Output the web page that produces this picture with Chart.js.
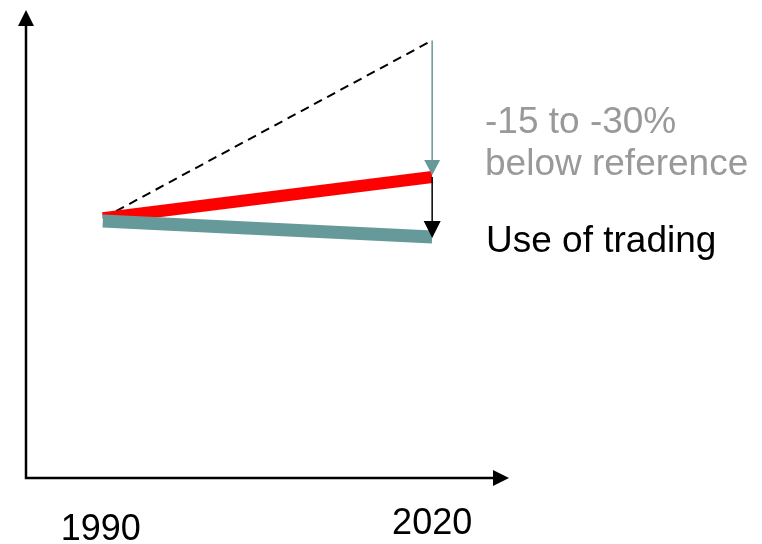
<!DOCTYPE html>
<html>
<head>
<meta charset="utf-8">
<script src="https://cdn.jsdelivr.net/npm/chart.js@4/dist/chart.umd.min.js"></script>
<style>
  html, body { margin: 0; padding: 0; background: #fff; }
  #wrap { width: 762px; height: 544px; }
</style>
</head>
<body>
<div id="wrap"><canvas id="trading"></canvas></div>
<script>
// chart values
var years = [1990, 2020];
var yearLabels = ['1990', '2020'];
var reference = [55.5, 93.5];
var target = [55.5, 64.3];
var withTrading = [54.9, 51.5];
var notes = ['-15 to -30%', 'below reference'];
var tradingNote = 'Use of trading';

var teal = '#669999';

function points(values) {
  return years.map(function (y, i) { return { x: y, y: values[i] }; });
}

function arrowHead(ctx, x, tipY, w, h, color) {
  ctx.fillStyle = color;
  ctx.beginPath();
  ctx.moveTo(x, tipY);
  ctx.lineTo(x - w / 2, tipY - h);
  ctx.lineTo(x + w / 2, tipY - h);
  ctx.closePath();
  ctx.fill();
}

var decorations = {
  id: 'decorations',
  afterDatasetsDraw: function (chart) {
    var ctx = chart.ctx;
    var area = chart.chartArea;
    var xs = chart.scales.x;
    var ys = chart.scales.y;

    // axes with arrow heads
    ctx.save();
    ctx.strokeStyle = '#000';
    ctx.lineWidth = 2.5;
    ctx.beginPath();
    ctx.moveTo(area.left, area.top + 12);
    ctx.lineTo(area.left, area.bottom);
    ctx.lineTo(area.right - 12, area.bottom);
    ctx.stroke();
    ctx.fillStyle = '#000';
    ctx.beginPath();
    ctx.moveTo(area.left, area.top);
    ctx.lineTo(area.left - 8, area.top + 16);
    ctx.lineTo(area.left + 8, area.top + 16);
    ctx.closePath();
    ctx.fill();
    ctx.beginPath();
    ctx.moveTo(area.right, area.bottom);
    ctx.lineTo(area.right - 16, area.bottom - 8);
    ctx.lineTo(area.right - 16, area.bottom + 8);
    ctx.closePath();
    ctx.fill();

    // arrows at 2020
    var x = xs.getPixelForValue(years[1]);
    var yRef = ys.getPixelForValue(reference[1]);
    var yTarget = ys.getPixelForValue(target[1]);
    var yTrade = ys.getPixelForValue(withTrading[1]);
    ctx.strokeStyle = teal;
    ctx.lineWidth = 1.5;
    ctx.beginPath();
    ctx.moveTo(x, yRef);
    ctx.lineTo(x, yTarget - 10);
    ctx.stroke();
    arrowHead(ctx, x, yTarget - 2, 16, 15, teal);
    ctx.strokeStyle = '#000';
    ctx.lineWidth = 1.5;
    ctx.beginPath();
    ctx.moveTo(x, yTarget);
    ctx.lineTo(x, yTrade - 10);
    ctx.stroke();
    arrowHead(ctx, x, yTrade + 1, 17, 17, '#000');

    // notes
    ctx.font = '37px "Liberation Sans", Arial, sans-serif';
    ctx.textBaseline = 'alphabetic';
    ctx.textAlign = 'left';
    ctx.fillStyle = '#999999';
    ctx.fillText(notes[0], 485, 133);
    ctx.fillText(notes[1], 485, 175);
    ctx.fillStyle = '#000000';
    ctx.fillText(tradingNote, 486, 252);

    // year labels
    ctx.font = '36px "Liberation Sans", Arial, sans-serif';
    ctx.fillStyle = '#000';
    ctx.textAlign = 'center';
    ctx.fillText(yearLabels[0], xs.getPixelForValue(years[0]) - 2, 540);
    ctx.fillText(yearLabels[1], xs.getPixelForValue(years[1]), 534);
    ctx.restore();
  }
};

new Chart(document.getElementById('trading'), {
  type: 'line',
  data: {
    datasets: [{
      label: 'With trading',
      data: points(withTrading),
      borderColor: teal,
      borderWidth: 13,
      borderCapStyle: 'butt',
      pointRadius: 0,
      order: 0
    }, {
      label: 'Target',
      data: points(target),
      borderColor: '#ff0000',
      borderWidth: 12,
      borderCapStyle: 'butt',
      pointRadius: 0,
      order: 1
    }, {
      label: 'Reference',
      data: points(reference),
      borderColor: '#000000',
      borderWidth: 2,
      borderDash: [9, 6],
      pointRadius: 0,
      order: 2
    }]
  },
  options: {
    responsive: true,
    maintainAspectRatio: false,
    animation: false,
    layout: { padding: { left: 26, right: 253, top: 10, bottom: 66 } },
    plugins: { legend: { display: false }, tooltip: { enabled: false } },
    scales: {
      x: { type: 'linear', min: 1983, max: 2027, display: false },
      y: { min: 0, max: 100, display: false }
    }
  },
  plugins: [decorations]
});
</script>
</body>
</html>
